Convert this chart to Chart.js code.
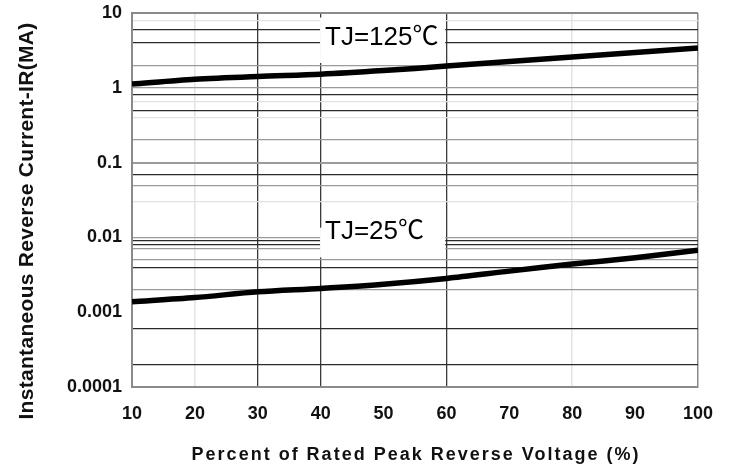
<!DOCTYPE html>
<html>
<head>
<meta charset="utf-8">
<script src="https://cdn.jsdelivr.net/npm/chart.js@4/dist/chart.umd.min.js"></script>
<style>
  html, body { margin: 0; padding: 0; background: #fff; }
  #wrap { width: 733px; height: 472px; position: relative; }
</style>
</head>
<body>
<div id="wrap"><canvas id="c" width="733" height="472"></canvas></div>
<script>
// ---- data ----
const voltagePct = [10, 20, 30, 40, 50, 60, 70, 80, 90, 100];
const current125 = [1.12, 1.3, 1.42, 1.52, 1.7, 1.95, 2.25, 2.58, 2.97, 3.4];
const current25 = [0.00138, 0.00157, 0.00187, 0.00208, 0.00237, 0.00283, 0.00354, 0.0044, 0.00535, 0.00676];
const seriesLabels = ['TJ=125℃', 'TJ=25℃'];
const xTickValues = [10, 20, 30, 40, 50, 60, 70, 80, 90, 100];
const yDecadeLabels = [10, 1, 0.1, 0.01, 0.001, 0.0001];
const yGridValues = [10, 8, 6, 4, 2, 1, 0.8, 0.65, 0.5, 0.4, 0.2, 0.1, 0.07, 0.05, 0.03,
                     0.01, 0.009, 0.008, 0.007, 0.005, 0.004, 0.002, 0.001, 0.0006, 0.0002, 0.0001];
const xTitle = 'Percent of Rated Peak Reverse Voltage (%)';
const yTitle = 'Instantaneous Reverse Current-IR(MA)';

// ---- styles ----
const darkY = [6, 4, 0.8, 0.5, 0.07, 0.009, 0.008, 0.004, 0.0006, 0.0002];
const faintY = [8, 0.65, 0.4, 0.03];
const hiddenY = [0.001];
function near(a, b) { return Math.abs(a - b) / b < 1e-6; }
function yGridColor(v) {
  if (v === undefined) return 'rgba(0,0,0,0)';
  if (hiddenY.some(d => near(v, d))) return 'rgba(0,0,0,0)';
  if (near(v, 10) || near(v, 0.0001)) return '#8a8a8a';
  if (darkY.some(d => near(v, d))) return '#2a2a2a';
  if (faintY.some(d => near(v, d))) return '#e2e2e2';
  return '#9a9a9a';
}
function yGridWidth(v) {
  if (v === undefined) return 1;
  if (near(v, 10)) return 2;
  if (near(v, 0.1)) return 2;
  if (darkY.some(d => near(v, d))) return 1.3;
  return 1.2;
}
function xGridColor(v) {
  if ([30, 40, 60].includes(v)) return '#3a3a3a';
  if ([20, 80].includes(v)) return '#e4e4e4';
  if (v === 10 || v === 100) return '#8a8a8a';
  return 'rgba(0,0,0,0)';
}

const FONT = '"Liberation Sans", Arial, "Noto Sans CJK SC", sans-serif';

const overlay = {
  id: 'overlay',
  beforeDatasetsDraw(chart) {
    const { ctx, scales } = chart;
    const xs = scales.x, ys = scales.y;
    const boxes = [
      { text: seriesLabels[0], x0: 39.9, x1: 59.8, yTop: 8.7, yBot: 2.15, ty: 4.6 },
      { text: seriesLabels[1], x0: 39.9, x1: 59.8, yTop: 0.0135, yBot: 0.0054, ty: 0.0118 }
    ];
    ctx.save();
    boxes.forEach(b => {
      const l = xs.getPixelForValue(b.x0), r = xs.getPixelForValue(b.x1);
      const t = ys.getPixelForValue(b.yTop), bt = ys.getPixelForValue(b.yBot);
      ctx.fillStyle = '#fff';
      ctx.fillRect(l, t, r - l, bt - t);
      ctx.fillStyle = '#000';
      ctx.font = '26px ' + FONT;
      ctx.textAlign = 'left';
      ctx.textBaseline = 'middle';
      ctx.fillText(b.text, l + 5, ys.getPixelForValue(b.ty));
    });
    ctx.restore();
  },
  afterDraw(chart) {
    const { ctx } = chart;
    ctx.save();
    ctx.fillStyle = '#111';
    ctx.textBaseline = 'middle';
    ctx.textAlign = 'center';
    // x title
    ctx.font = 'bold 18px ' + FONT;
    ctx.letterSpacing = '2px';
    ctx.fillText(xTitle, 416, 455);
    // y title
    ctx.translate(27, 221);
    ctx.rotate(-Math.PI / 2);
    ctx.font = 'bold 21px ' + FONT;
    ctx.letterSpacing = '0.3px';
    ctx.fillText(yTitle, 0, 0);
    ctx.restore();
  }
};

const chart = new Chart(document.getElementById('c'), {
  type: 'line',
  data: {
    datasets: [
      {
        label: seriesLabels[0],
        data: voltagePct.map((x, i) => ({ x, y: current125[i] })),
        borderColor: '#000', borderWidth: 5.5, pointRadius: 0, tension: 0.3, fill: false
      },
      {
        label: seriesLabels[1],
        data: voltagePct.map((x, i) => ({ x, y: current25[i] })),
        borderColor: '#000', borderWidth: 5.5, pointRadius: 0, tension: 0.3, fill: false
      }
    ]
  },
  options: {
    responsive: false,
    animation: false,
    layout: { padding: { top: 13, right: 35, left: 0, bottom: 0 } },
    plugins: { legend: { display: false }, tooltip: { enabled: false }, title: { display: false } },
    scales: {
      x: {
        type: 'linear', min: 10, max: 100,
        afterBuildTicks(scale) { scale.ticks = xTickValues.map(v => ({ value: v })); },
        afterFit(scale) { scale.height = 85; scale.paddingLeft = 0; scale.paddingRight = 0; },
        border: { display: true, color: '#8a8a8a', width: 2 },
        grid: {
          drawTicks: false,
          color: ctx => xGridColor(ctx.tick && ctx.tick.value),
          lineWidth: ctx => (ctx.tick && [30, 40, 60].includes(ctx.tick.value)) ? 1.3 : 1.5
        },
        ticks: {
          padding: 16, color: '#111', autoSkip: false, maxRotation: 0,
          font: { family: FONT, size: 18, weight: 'bold' }
        }
      },
      y: {
        type: 'logarithmic', min: 0.0001, max: 10,
        afterBuildTicks(scale) { scale.ticks = yGridValues.map(v => ({ value: v })); },
        afterFit(scale) { scale.width = 132; scale.paddingTop = 0; scale.paddingBottom = 0; },
        border: { display: true, color: '#8a8a8a', width: 2 },
        grid: {
          drawTicks: false,
          color: ctx => yGridColor(ctx.tick && ctx.tick.value),
          lineWidth: ctx => yGridWidth(ctx.tick && ctx.tick.value)
        },
        ticks: {
          padding: 10, color: '#111', autoSkip: false,
          font: { family: FONT, size: 18, weight: 'bold' },
          callback: v => {
            const d = yDecadeLabels.find(t => near(v, t));
            return d === undefined ? '' : String(d);
          }
        }
      }
    }
  },
  plugins: [overlay]
});
</script>
</body>
</html>
